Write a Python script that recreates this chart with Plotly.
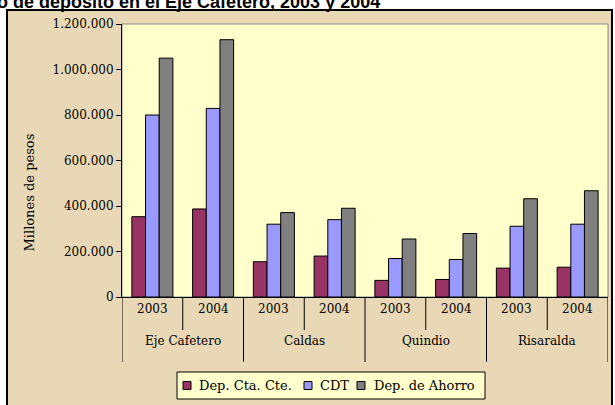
import plotly.graph_objects as go

regions = ["Eje Cafetero", "Caldas", "Quindio", "Risaralda"]
years = ["2003", "2004"]
series_names = ["Dep. Cta. Cte.", "CDT", "Dep. de Ahorro"]
cta_cte = [353000, 387000, 155000, 180000, 73000, 77000, 127000, 131000]
cdt = [800000, 829000, 320000, 340000, 169000, 165000, 311000, 320000]
ahorro = [1050000, 1131000, 371000, 390000, 255000, 279000, 432000, 467000]
colors = ["#993366", "#9999FF", "#808080"]
title_text = "Captaciones por tipo de depósito en el Eje Cafetero, 2003 y 2004"
y_title = "Millones de pesos"

cats = [f"{r} {y}" for r in regions for y in years]

W, H = 615, 405
L, R, T, B = 122, 7, 24, 108
pw, ph = W - L - R, H - T - B

def px(x):
    return (x - L) / pw

def py(y):
    return (H - B - y) / ph

FONT = "DejaVu Serif"

fig = go.Figure()
for name, vals, col in zip(series_names, [cta_cte, cdt, ahorro], colors):
    fig.add_trace(go.Bar(x=cats, y=vals, name=name, showlegend=False,
                         marker=dict(color=col, line=dict(color="black", width=1))))

shapes = [
    dict(type="rect", xref="paper", yref="paper", x0=px(7), x1=px(612), y0=py(412), y1=py(10),
         fillcolor="#E9D8B6", line=dict(color="black", width=2), layer="below"),
    dict(type="rect", xref="paper", yref="paper", x0=0, x1=1, y0=0, y1=1,
         fillcolor="#FFFFCC", line=dict(color="#8c8c8c", width=1), layer="below"),
]
annotations = []
for i, c in enumerate(cats):
    annotations.append(dict(x=c, xref="x", y=py(318), yref="paper", text=c.split(" ")[-1],
                            showarrow=False, font=dict(family=FONT, size=12, color="black")))
for gi, r in enumerate(regions):
    annotations.append(dict(x=2 * gi + 0.5, xref="x", y=py(350), yref="paper", text=r,
                            showarrow=False, font=dict(family=FONT, size=12, color="black")))
    shapes.append(dict(type="line", xref="x", yref="paper", x0=2 * gi - 0.5, x1=2 * gi - 0.5,
                       y0=0, y1=py(362), line=dict(color="black", width=1)))
    shapes.append(dict(type="line", xref="x", yref="paper", x0=2 * gi + 0.5, x1=2 * gi + 0.5,
                       y0=0, y1=py(330), line=dict(color="black", width=1)))
shapes.append(dict(type="line", xref="x", yref="paper", x0=7.5, x1=7.5,
                   y0=0, y1=py(362), line=dict(color="black", width=1)))

# manual legend
shapes.append(dict(type="rect", xref="paper", yref="paper", x0=px(177), x1=px(485),
                   y0=py(399), y1=py(372), fillcolor="#FFFFCC",
                   line=dict(color="black", width=1)))
sw_x = [183, 304, 357]
tx_x = [198, 319, 373]
for name, col, sx, tx in zip(series_names, colors, sw_x, tx_x):
    shapes.append(dict(type="rect", xref="paper", yref="paper", x0=px(sx), x1=px(sx + 8),
                       y0=py(389.5), y1=py(381.5), fillcolor=col,
                       line=dict(color="black", width=1)))
    annotations.append(dict(x=px(tx - 1), y=py(385), xref="paper", yref="paper", text=name,
                            xanchor="left", yanchor="middle", showarrow=False,
                            font=dict(family=FONT, size=13, color="black")))

annotations.append(dict(x=px(19), y=py(193), xref="paper", yref="paper", text=y_title,
                        textangle=-90, showarrow=False,
                        font=dict(family=FONT, size=13, color="black")))
annotations.append(dict(x=px(382), y=py(14), xref="paper", yref="paper", text="<b>" + title_text + "</b>",
                        xanchor="right", yanchor="bottom", showarrow=False,
                        font=dict(family="Liberation Sans", size=18, color="black")))

fig.update_layout(
    width=W, height=H,
    margin=dict(l=L, r=R, t=T, b=B, pad=0),
    paper_bgcolor="white", plot_bgcolor="rgba(0,0,0,0)",
    separators=",.",
    barmode="group", bargap=0.325, bargroupgap=0,
    shapes=shapes, annotations=annotations,
    showlegend=False,
)
fig.update_xaxes(showticklabels=False, ticks="", showline=True, linecolor="black", linewidth=1,
                 showgrid=False, zeroline=False, range=[-0.5, 7.5], fixedrange=True)
fig.update_yaxes(range=[0, 1200000], dtick=200000, tickformat=",d", ticks="outside", ticklen=5,
                 tickcolor="black", showline=True, linecolor="black", linewidth=1,
                 showgrid=False, zeroline=False, automargin=False,
                 tickfont=dict(family=FONT, size=12, color="black"))

fig.write_html("out.html", config={"displayModeBar": False},
               post_script="document.body.style.margin='0';")
